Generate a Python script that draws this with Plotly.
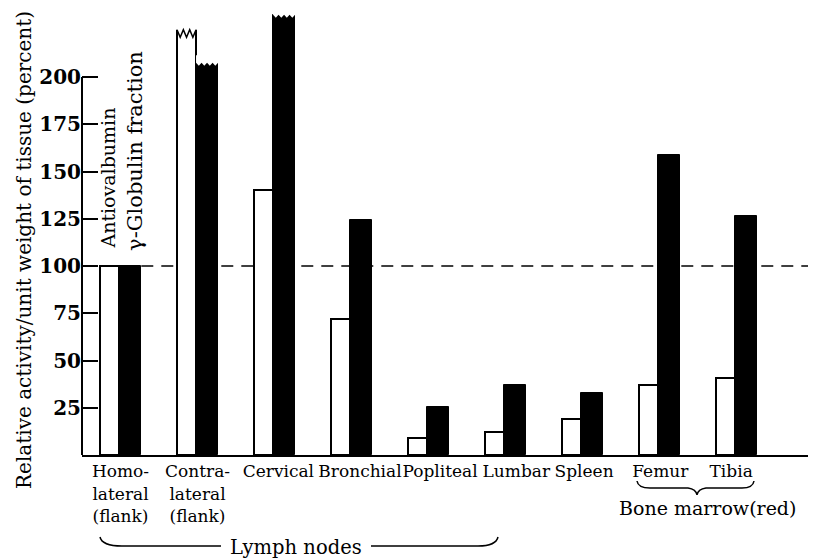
import plotly.graph_objects as go

# ---- data ----
categories = ["Homo-<br>lateral<br>(flank)", "Contra-<br>lateral<br>(flank)", "Cervical", "Bronchial",
              "Popliteal", "Lumbar", "Spleen", "Femur", "Tibia"]
label_pos = [0.0, 1.0, 2.05, 3.11, 4.15, 5.14, 6.02, 7.01, 7.93]
antiovalbumin = [100, 225, 140, 72, 9, 12, 19, 37, 41]
gamma_globulin = [100, 207.5, 233, 124.5, 25.5, 37, 33, 158.5, 126.5]
antiovalbumin_broken = [False, True, False, False, False, False, False, False, False]
gamma_globulin_broken = [False, True, True, False, False, False, False, False, False]
y_ticks = [25, 50, 75, 100, 125, 150, 175, 200]

FONT = "DejaVu Serif"
# page body has an 8px margin, so the figure is drawn 8px smaller and positions below
# are given in window pixels (ref) and converted.
W, H = 808, 552
ML, MR, MT, MB = 74, 1, 2, 105
PW, PH = W - ML - MR, H - MT - MB
XR = [-0.5, 9.019]
YR = [0, PH / 1.89]

W_OFF, W_W = -0.266, 0.247
B_OFF, B_W = -0.019, 0.286


def PX(px):
    return (px - 82) / PW


def PY(py):
    return (455 - py) / PH


def P(px, py):
    return f"{PX(px):.5f},{PY(py):.5f}"


x = list(range(len(categories)))

fig = go.Figure()
fig.add_trace(go.Bar(x=x, y=antiovalbumin, width=W_W, offset=W_OFF,
                     marker=dict(color="white", line=dict(color="black", width=2)),
                     name="Antiovalbumin", showlegend=False))
fig.add_trace(go.Bar(x=x, y=gamma_globulin, width=B_W, offset=B_OFF,
                     marker=dict(color="black", line=dict(color="black", width=1)),
                     name="γ-Globulin fraction", showlegend=False))

shapes = []
# dashed reference line at 100
shapes.append(dict(type="line", xref="x", yref="y", x0=0.27, x1=XR[1], y0=100, y1=100,
                   line=dict(color="black", width=1.5, dash="12px,8px"), layer="below"))
# y axis line from 0 to 200
shapes.append(dict(type="line", xref="paper", yref="y", x0=0, x1=0, y0=0, y1=200,
                   line=dict(color="black", width=2)))


def broken_top(x0, x1, v, amp, n, el, er, outline):
    pts = []
    for k in range(n + 1):
        xx = x0 + (x1 - x0) * k / n
        yy = v if k % 2 == 0 else v - amp
        pts.append((xx, yy))
    erase = f"M {x0 - el},{v + 4} L {x0 - el},{pts[0][1]} "
    erase += " ".join(f"L {a},{b}" for a, b in pts)
    erase += f" L {x1 + er},{pts[-1][1]} L {x1 + er},{v + 4} Z"
    shapes.append(dict(type="path", xref="x", yref="y", path=erase,
                       fillcolor="white", line=dict(width=0)))
    if outline:
        line = f"M {pts[0][0]},{pts[0][1]} " + " ".join(f"L {a},{b}" for a, b in pts[1:])
        shapes.append(dict(type="path", xref="x", yref="y", path=line,
                           line=dict(color="black", width=1.5)))


for i in x:
    if antiovalbumin_broken[i]:
        broken_top(i + W_OFF, i + W_OFF + W_W, antiovalbumin[i], 4, 6, 0.02, 0.02, True)
    if gamma_globulin_broken[i]:
        broken_top(i + B_OFF, i + B_OFF + B_W, gamma_globulin[i], 1.6, 8, 0.0, 0.02, False)

# Lymph nodes brace
shapes.append(dict(type="path", xref="paper", yref="paper",
                   path=f"M {P(100,537)} Q {P(102,546)} {P(122,546)} L {P(221,546)}",
                   line=dict(color="black", width=1.5)))
shapes.append(dict(type="path", xref="paper", yref="paper",
                   path=f"M {P(371,546)} L {P(478,546)} Q {P(496,546)} {P(498,537)}",
                   line=dict(color="black", width=1.5)))
# Bone marrow brace
shapes.append(dict(type="path", xref="paper", yref="paper",
                   path=(f"M {P(637,481)} Q {P(638,488)} {P(650,488)} L {P(688,488)} "
                         f"Q {P(696,489)} {P(697,495)} Q {P(698,489)} {P(706,488)} "
                         f"L {P(742,488)} Q {P(753,488)} {P(754,481)}"),
                   line=dict(color="black", width=1.5)))

annotations = [
    dict(text="Relative activity/unit weight of tissue (percent)", textangle=-90,
         xref="paper", yref="paper", x=PX(24), y=PY(250),
         xanchor="center", yanchor="middle", showarrow=False,
         font=dict(family=FONT, size=20, color="black")),
    dict(text="Antiovalbumin", textangle=-90, xref="x", yref="y",
         x=-0.16, y=108, xanchor="center", yanchor="bottom", showarrow=False,
         font=dict(family=FONT, size=19, color="black")),
    dict(text="γ-Globulin fraction", textangle=-90, xref="x", yref="y",
         x=0.19, y=107, xanchor="center", yanchor="bottom", showarrow=False,
         font=dict(family=FONT, size=21, color="black")),
    dict(text="Lymph nodes", xref="paper", yref="paper", x=PX(296), y=PY(547),
         xanchor="center", yanchor="middle", showarrow=False,
         font=dict(family=FONT, size=19.5, color="black")),
    dict(text="Bone marrow(red)", xref="paper", yref="paper", x=PX(707), y=PY(508),
         xanchor="center", yanchor="middle", showarrow=False,
         font=dict(family=FONT, size=19, color="black")),
]

fig.update_layout(
    width=W, height=H, margin=dict(l=ML, r=MR, t=MT, b=MB, pad=0, autoexpand=False),
    plot_bgcolor="white", paper_bgcolor="white",
    barmode="overlay", bargap=0,
    shapes=shapes, annotations=annotations,
    xaxis=dict(range=XR, tickvals=label_pos, ticktext=categories, showgrid=False, zeroline=False,
               showline=True, linecolor="black", linewidth=2, ticks="", automargin=False,
               tickangle=0,
               tickfont=dict(family=FONT, size=17, color="black")),
    yaxis=dict(range=YR, tickvals=y_ticks, showgrid=False, zeroline=False, showline=False,
               ticks="inside", ticklen=16, tickwidth=2, tickcolor="black", automargin=False,
               tickfont=dict(family=FONT, size=20, color="black", weight="bold")),
)

fig.write_html("out.html")
